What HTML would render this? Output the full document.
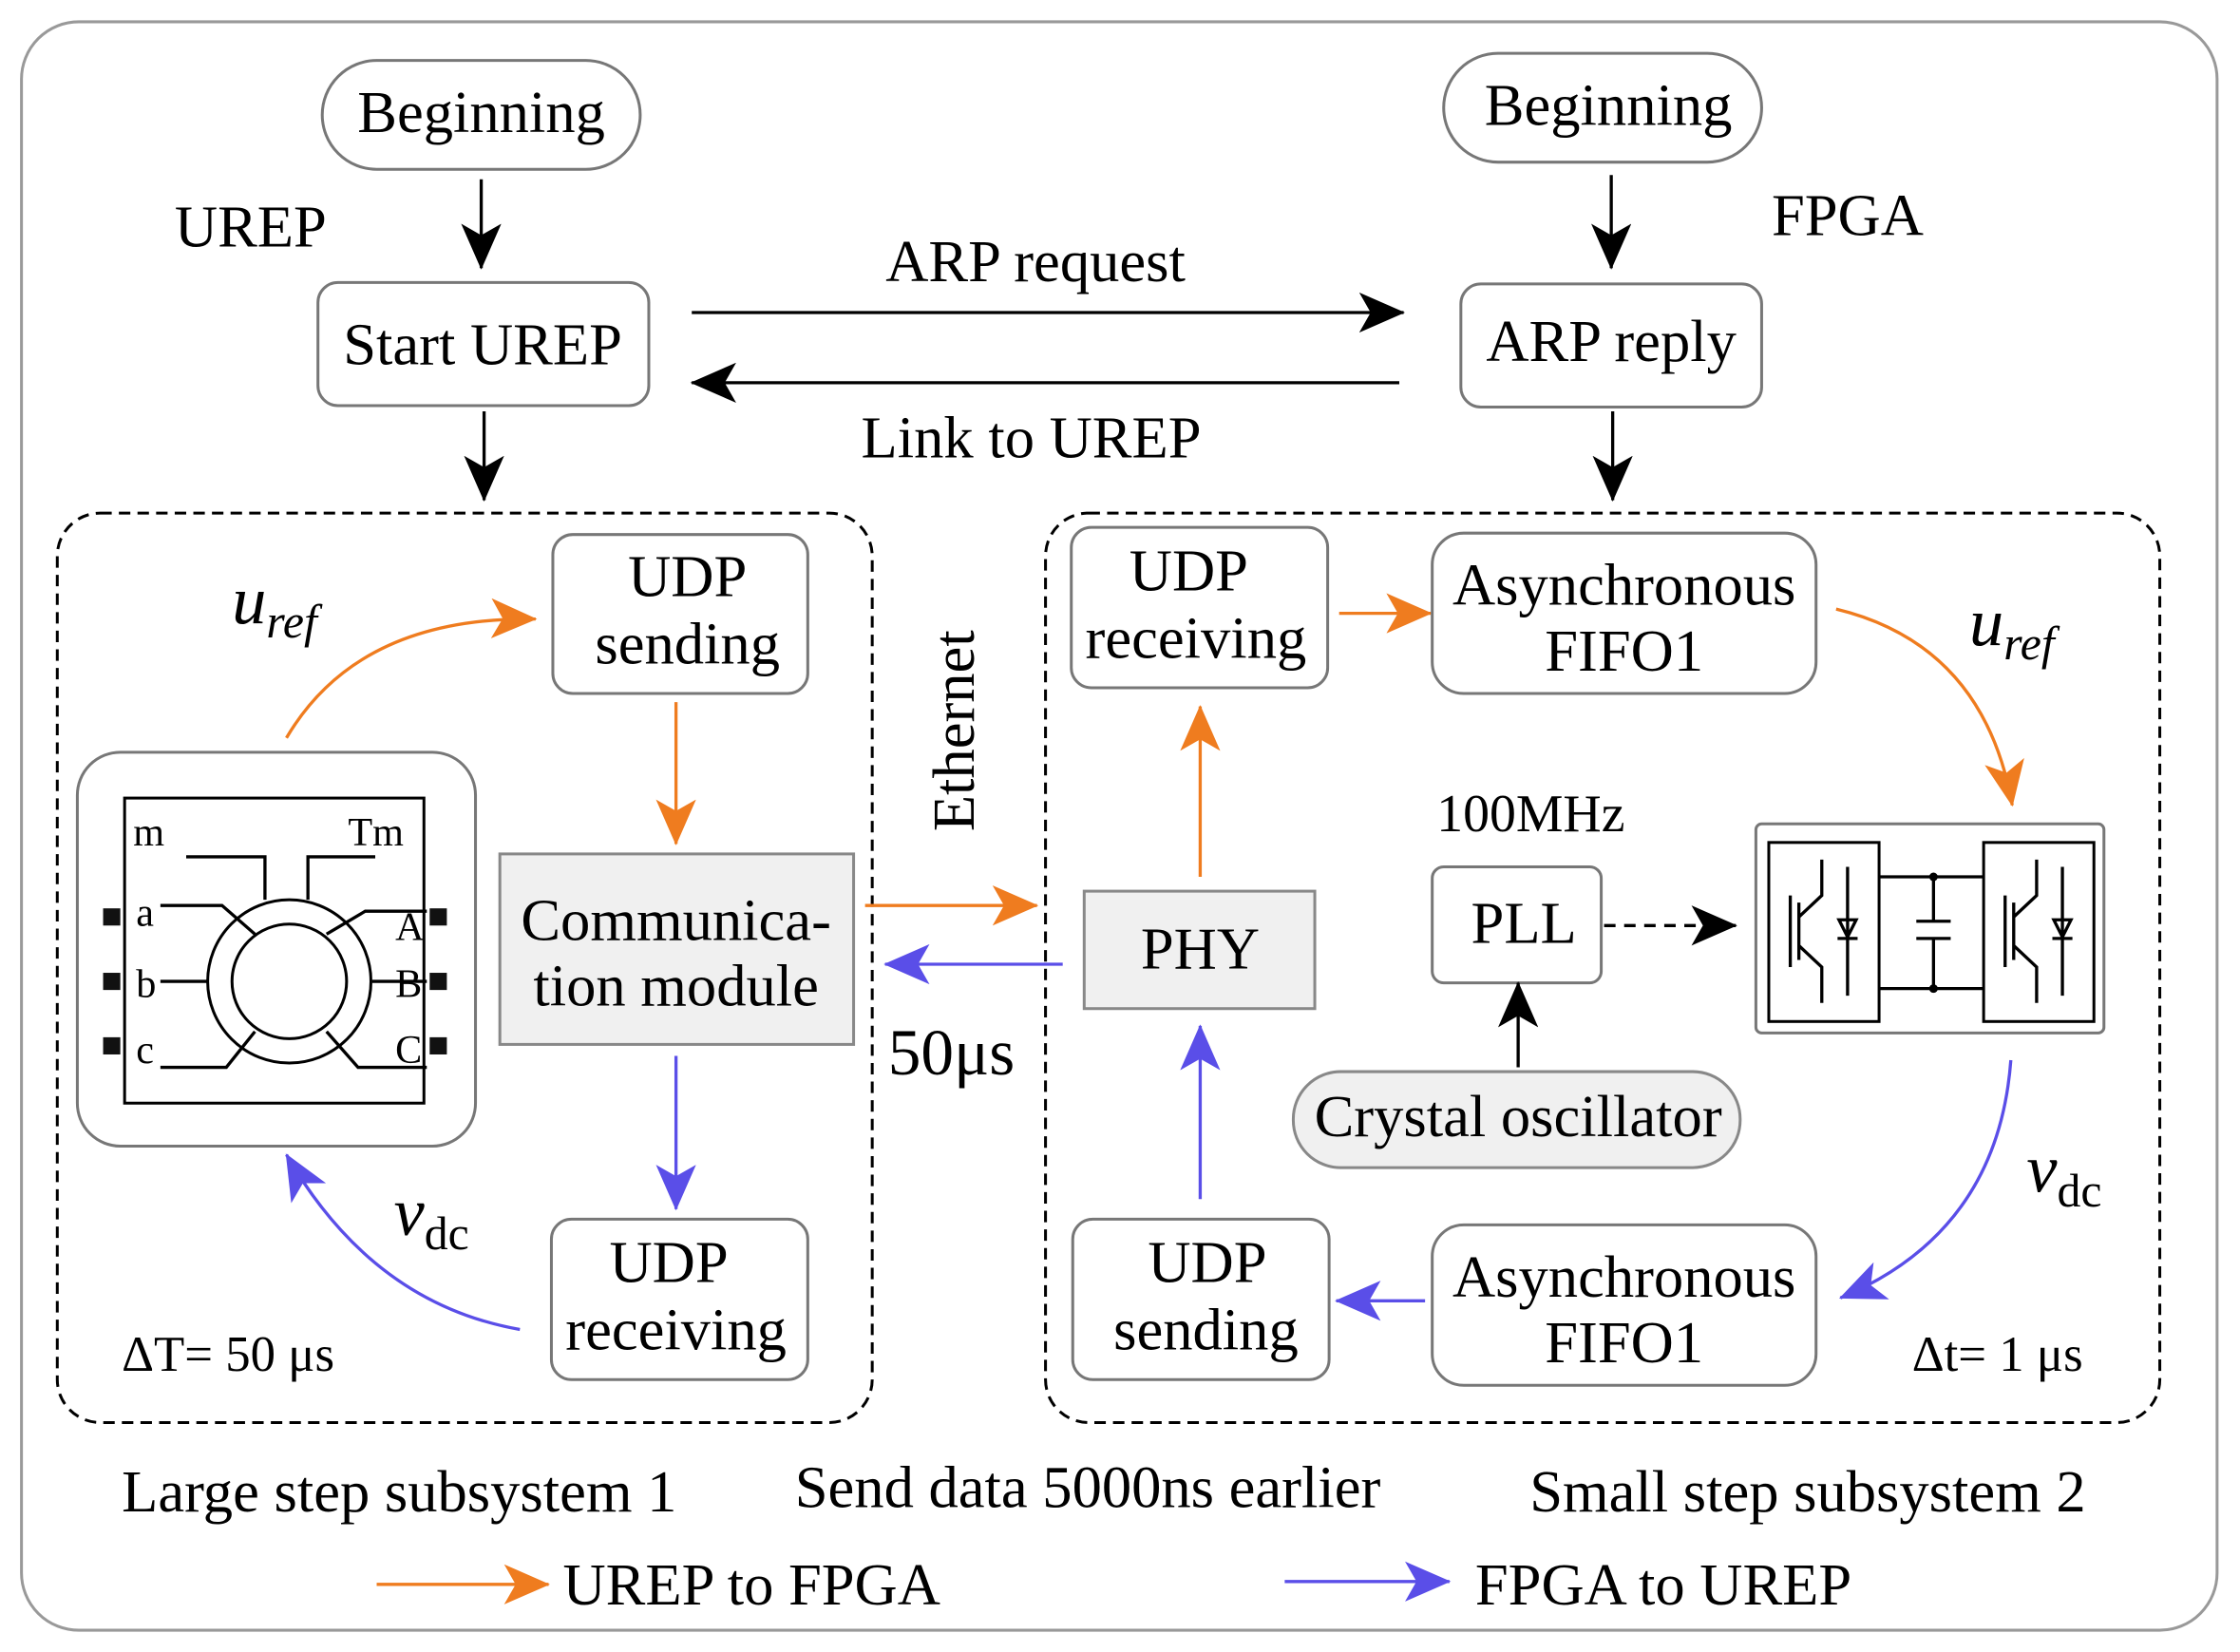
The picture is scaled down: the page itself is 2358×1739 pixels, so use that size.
<!DOCTYPE html>
<html><head><meta charset="utf-8"><style>html,body{margin:0;padding:0;background:#fff}svg{display:block}</style></head>
<body>
<svg width="2358" height="1739" viewBox="0 0 1564 1153" xmlns="http://www.w3.org/2000/svg" font-family="Liberation Serif, serif" font-size="41.5">
<defs>
<marker id="ak" markerWidth="32" markerHeight="28" refX="31" refY="14" orient="auto" markerUnits="userSpaceOnUse" viewBox="0 0 32 28"><path d="M0,0 L32,14 L0,28 L8,14 z" fill="#000"/></marker>
<marker id="ao" markerWidth="32" markerHeight="28" refX="31" refY="14" orient="auto" markerUnits="userSpaceOnUse" viewBox="0 0 32 28"><path d="M0,0 L32,14 L0,28 L8,14 z" fill="#ef7c1f"/></marker>
<marker id="ab" markerWidth="32" markerHeight="28" refX="31" refY="14" orient="auto" markerUnits="userSpaceOnUse" viewBox="0 0 32 28"><path d="M0,0 L32,14 L0,28 L8,14 z" fill="#5a4ee8"/></marker>
</defs>
<style>
.k{stroke:#000;stroke-width:2.2;fill:none}
.o{stroke:#ef7c1f;stroke-width:2.2;fill:none}
.b{stroke:#5a4ee8;stroke-width:2.2;fill:none}
.box{fill:#fff;stroke:#777;stroke-width:2}
.g{fill:#f0f0f0;stroke:#888;stroke-width:2}
text{fill:#000}
.m{text-anchor:middle}
</style>
<rect x="15" y="15" width="1533" height="1123" rx="40" fill="none" stroke="#999" stroke-width="2"/>
<rect x="225" y="42" width="222" height="76" rx="38" class="box"/>
<text x="336" y="92" class="m">Beginning</text>
<line x1="336" y1="125" x2="336" y2="187" class="k" marker-end="url(#ak)"/>
<text x="122" y="172">UREP</text>
<rect x="222" y="197" width="231" height="86" rx="14" class="box"/>
<text x="337" y="254" class="m">Start UREP</text>
<line x1="338" y1="287" x2="338" y2="349" class="k" marker-end="url(#ak)"/>
<rect x="1008" y="37" width="222" height="76" rx="38" class="box"/>
<text x="1123" y="87" class="m">Beginning</text>
<line x1="1125" y1="122" x2="1125" y2="187" class="k" marker-end="url(#ak)"/>
<text x="1237" y="164">FPGA</text>
<rect x="1020" y="198" width="210" height="86" rx="14" class="box"/>
<text x="1125" y="252" class="m">ARP reply</text>
<line x1="1126" y1="287" x2="1126" y2="349" class="k" marker-end="url(#ak)"/>
<line x1="483" y1="218" x2="980" y2="218" class="k" marker-end="url(#ak)"/>
<text x="723" y="196" class="m">ARP request</text>
<line x1="977" y1="267" x2="483" y2="267" class="k" marker-end="url(#ak)"/>
<text x="720" y="319" class="m">Link to UREP</text>
<rect x="40" y="358" width="569" height="635" rx="30" fill="none" stroke="#000" stroke-width="2" stroke-dasharray="8,5"/>
<rect x="730" y="358" width="778" height="635" rx="30" fill="none" stroke="#000" stroke-width="2" stroke-dasharray="8,5"/>
<rect x="386" y="373" width="178" height="111" rx="14" class="box"/>
<text x="480" y="416" class="m">UDP</text>
<text x="480" y="463" class="m">sending</text>
<path d="M200,515 Q250,430 374,432" class="o" marker-end="url(#ao)"/>
<text x="162" y="435" font-style="italic" font-size="48">u<tspan font-size="33" dy="10">ref</tspan></text>
<rect x="54" y="525" width="278" height="275" rx="30" class="box"/>
<rect x="87" y="557" width="209" height="213" fill="none" stroke="#000" stroke-width="2"/>
<text x="93" y="590" font-size="28">m</text>
<text x="243" y="590" font-size="28">Tm</text>
<path d="M130,598 H185 V628 M262,598 H215 V628" class="k"/>
<circle cx="202" cy="685" r="57" fill="none" stroke="#000" stroke-width="2"/>
<circle cx="202" cy="685" r="40" fill="none" stroke="#000" stroke-width="2"/>
<text x="95" y="646" font-size="28">a</text><text x="95" y="696" font-size="28">b</text><text x="95" y="742" font-size="28">c</text>
<text x="276" y="656" font-size="28">A</text><text x="276" y="696" font-size="28">B</text><text x="276" y="742" font-size="28">C</text>
<path d="M112,632 H155 L178,652 M112,685 H145 M112,745 H158 L178,720 M298,636 H255 L228,652 M298,685 H260 M298,745 H250 L228,720" class="k"/>
<g fill="#111"><rect x="72" y="634" width="12" height="12"/><rect x="72" y="679" width="12" height="12"/><rect x="72" y="724" width="12" height="12"/>
<rect x="300" y="634" width="12" height="12"/><rect x="300" y="679" width="12" height="12"/><rect x="300" y="724" width="12" height="12"/></g>
<rect x="349" y="596" width="247" height="133" class="g"/>
<text x="472" y="656" class="m">Communica-</text>
<text x="472" y="702" class="m">tion module</text>
<line x1="472" y1="490" x2="472" y2="589" class="o" marker-end="url(#ao)"/>
<line x1="472" y1="737" x2="472" y2="844" class="b" marker-end="url(#ab)"/>
<rect x="385" y="851" width="179" height="112" rx="14" class="box"/>
<text x="467" y="895" class="m">UDP</text>
<text x="472" y="942" class="m">receiving</text>
<path d="M363,928 Q260,910 200,806" class="b" marker-end="url(#ab)"/>
<text x="275" y="862" font-style="italic" font-size="48">v<tspan font-size="33" font-style="normal" dy="10">dc</tspan></text>
<text x="85" y="957" font-size="35">ΔT= 50 μs</text>
<text transform="translate(680,510) rotate(-90)" class="m">Ethernet</text>
<line x1="604" y1="632" x2="724" y2="632" class="o" marker-end="url(#ao)"/>
<line x1="742" y1="673" x2="618" y2="673" class="b" marker-end="url(#ab)"/>
<text x="620" y="750" font-size="46">50μs</text>
<rect x="757" y="622" width="161" height="82" class="g"/>
<text x="838" y="676" class="m">PHY</text>
<line x1="838" y1="612" x2="838" y2="493" class="o" marker-end="url(#ao)"/>
<line x1="838" y1="837" x2="838" y2="716" class="b" marker-end="url(#ab)"/>
<rect x="748" y="368" width="179" height="112" rx="14" class="box"/>
<text x="830" y="412" class="m">UDP</text>
<text x="835" y="459" class="m">receiving</text>
<line x1="935" y1="428" x2="999" y2="428" class="o" marker-end="url(#ao)"/>
<rect x="1000" y="372" width="268" height="112" rx="22" class="box"/>
<text x="1134" y="422" class="m">Asynchronous</text>
<text x="1134" y="468" class="m">FIFO1</text>
<path d="M1282,425 Q1385,450 1405,562" class="o" marker-end="url(#ao)"/>
<text x="1375" y="450" font-style="italic" font-size="48">u<tspan font-size="33" dy="10">ref</tspan></text>
<text x="1003" y="580" font-size="37">100MHz</text>
<rect x="1000" y="605" width="118" height="81" rx="8" class="box"/>
<text x="1064" y="658" class="m">PLL</text>
<line x1="1120" y1="646" x2="1212" y2="646" class="k" stroke-dasharray="8,6" marker-end="url(#ak)"/>
<line x1="1060" y1="745" x2="1060" y2="686" class="k" stroke-width="3" marker-end="url(#ak)"/>
<rect x="903" y="748" width="312" height="67" rx="33" class="g"/>
<text x="1060" y="793" class="m">Crystal oscillator</text>
<rect x="1226" y="575" width="243" height="146" rx="4" class="box"/>
<rect x="1235" y="588" width="77" height="125" fill="none" stroke="#000" stroke-width="2"/>
<rect x="1385" y="588" width="77" height="125" fill="none" stroke="#000" stroke-width="2"/>
<path d="M1312,612 H1385 M1312,690 H1385 M1350,612 V643 M1350,655 V690 M1338,643 H1362 M1338,655 H1362" class="k"/>
<circle cx="1350" cy="612" r="3"/><circle cx="1350" cy="690" r="3"/>
<g class="k" stroke-width="1.5">
<path d="M1250,625 V675 M1256,630 V670 M1256,640 L1272,625 V600 M1256,660 L1272,675 V700 M1290,605 V695 M1283,655 H1297 M1284,642 L1296,642 L1290,654 Z"/>
<path d="M1400,625 V675 M1406,630 V670 M1406,640 L1422,625 V600 M1406,660 L1422,675 V700 M1440,605 V695 M1433,655 H1447 M1434,642 L1446,642 L1440,654 Z"/>
</g>
<path d="M1404,740 Q1395,860 1285,906" class="b" marker-end="url(#ab)"/>
<text x="1415" y="832" font-style="italic" font-size="48">v<tspan font-size="33" font-style="normal" dy="10">dc</tspan></text>
<rect x="1000" y="855" width="268" height="112" rx="22" class="box"/>
<text x="1134" y="905" class="m">Asynchronous</text>
<text x="1134" y="951" class="m">FIFO1</text>
<line x1="995" y1="908" x2="933" y2="908" class="b" marker-end="url(#ab)"/>
<rect x="749" y="851" width="179" height="112" rx="14" class="box"/>
<text x="843" y="895" class="m">UDP</text>
<text x="842" y="942" class="m">sending</text>
<text x="1335" y="957" font-size="35">Δt= 1 μs</text>
<text x="85" y="1055">Large step subsystem 1</text>
<text x="555" y="1052">Send data 5000ns earlier</text>
<text x="1068" y="1055">Small step subsystem 2</text>
<line x1="263" y1="1106" x2="383" y2="1106" class="o" marker-end="url(#ao)"/>
<text x="393" y="1120">UREP to FPGA</text>
<line x1="897" y1="1104" x2="1012" y2="1104" class="b" marker-end="url(#ab)"/>
<text x="1030" y="1120">FPGA to UREP</text>
</svg>
</body></html>
